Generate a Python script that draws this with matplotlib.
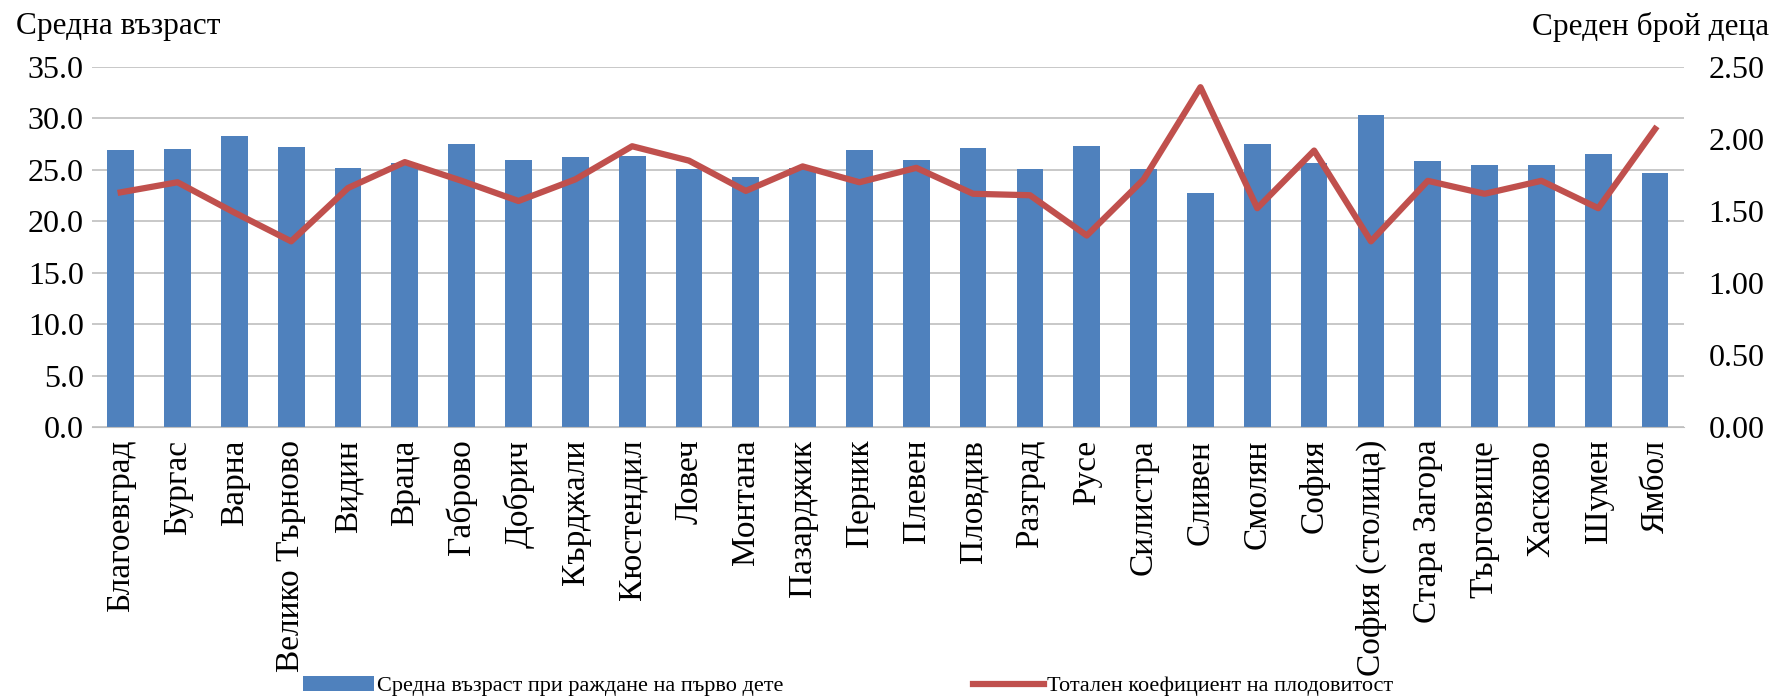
import numpy as np
import matplotlib
matplotlib.use("Agg")
import matplotlib.pyplot as plt

plt.rcParams['font.family'] = ['Liberation Serif', 'DejaVu Serif']

oblasti = ["Благоевград", "Бургас", "Варна", "Велико Търново", "Видин", "Враца",
           "Габрово", "Добрич", "Кърджали", "Кюстендил", "Ловеч", "Монтана",
           "Пазарджик", "Перник", "Плевен", "Пловдив", "Разград", "Русе",
           "Силистра", "Сливен", "Смолян", "София", "София (столица)",
           "Стара Загора", "Търговище", "Хасково", "Шумен", "Ямбол"]

vazrast = [26.9, 27.0, 28.3, 27.2, 25.2, 25.7, 27.5, 26.0, 26.3, 26.4, 25.1, 24.3,
           25.2, 26.9, 26.0, 27.1, 25.1, 27.3, 25.1, 22.8, 27.5, 25.7, 30.3,
           25.9, 25.5, 25.5, 26.5, 24.7]
plodovitost = [1.63, 1.70, 1.49, 1.29, 1.66, 1.84, 1.71, 1.57, 1.72, 1.95, 1.85,
               1.64, 1.81, 1.70, 1.80, 1.62, 1.61, 1.33, 1.72, 2.36, 1.52, 1.92,
               1.29, 1.71, 1.62, 1.71, 1.52, 2.07]

lyavo_ticks = np.arange(0, 35.1, 5)
dyasno_ticks = np.arange(0, 2.51, 0.5)

fig = plt.figure(figsize=(17.74, 6.98), dpi=100)
ax = fig.add_axes([0.052, 0.388, 0.897, 0.516])
x = np.arange(len(oblasti))

ax.bar(x, vazrast, width=0.47, color="#4F81BD", zorder=2,
       label="Средна възраст при раждане на първо дете")
ax.set_ylim(0, 35)
ax.set_xlim(-0.5, len(oblasti) - 0.5)
ax.set_yticks(lyavo_ticks)
ax.set_yticklabels([f"{v:.1f}" for v in lyavo_ticks], fontsize=23)
ax.yaxis.grid(True, color="#BFBFBF", linewidth=1.2, zorder=0)
ax.set_xticks(x)
ax.set_xticklabels(oblasti, rotation=90, fontsize=24)
ax.tick_params(axis="y", length=0, pad=6)
ax.tick_params(axis="x", length=0, pad=9)
for s in ["top", "left", "right"]:
    ax.spines[s].set_visible(False)
ax.spines["bottom"].set_color("#BFBFBF")

ax2 = ax.twinx()
ax2.plot(x, plodovitost, color="#C0504D", linewidth=4.5, zorder=3,
         solid_joinstyle="round", label="Тотален коефициент на плодовитост")
ax2.set_ylim(0, 2.5)
ax2.set_yticks(dyasno_ticks)
ax2.set_yticklabels([f"{v:.2f}" for v in dyasno_ticks], fontsize=23)
ax2.tick_params(axis="y", length=0, pad=18)
for s in ["top", "left", "right", "bottom"]:
    ax2.spines[s].set_visible(False)

fig.text(0.009, 0.962, "Средна възраст", fontsize=22.5, va="center", ha="left")
fig.text(0.997, 0.962, "Среден брой деца", fontsize=22.5, va="center", ha="right")

h1, l1 = ax.get_legend_handles_labels()
h2, l2 = ax2.get_legend_handles_labels()
fig.legend(h1 + h2, l1 + l2, loc="center", bbox_to_anchor=(0.478, 0.017),
           ncol=2, frameon=False, fontsize=16, columnspacing=8.5,
           handlelength=3.2, handletextpad=0.15)

fig.savefig("out.png", dpi=100)
